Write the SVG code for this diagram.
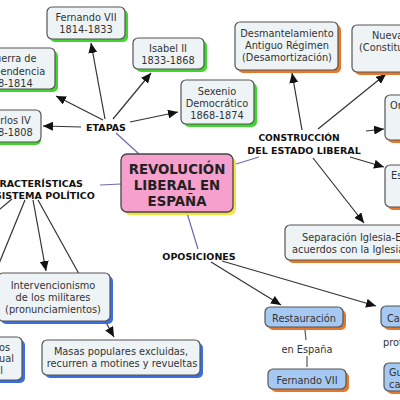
<svg xmlns="http://www.w3.org/2000/svg" width="400" height="400" viewBox="0 0 400 400">
<style>
.bg{fill:#ffffff}
.box{fill:#eef3f6;stroke:#555;stroke-width:1.2}
.bbox{fill:#a6c9f3;stroke:#555;stroke-width:1.2}
.pink{fill:#f5a0cd;stroke:#444;stroke-width:1.3}
.sg{fill:#3fd62f}
.so{fill:#e6782c}
.sb{fill:#3b6fe0}
.sy{fill:#f2e43c}
text{font-family:"DejaVu Sans","Verdana",sans-serif;font-size:9.8px;fill:#333}
.c{text-anchor:middle}
.e{text-anchor:end}
.lbl{font-weight:bold;font-size:9.5px;fill:#111;text-anchor:middle}
.big{font-weight:bold;font-size:13.3px;fill:#222;text-anchor:middle}
.a{stroke:#333;stroke-width:1.2;fill:none;marker-end:url(#ah)}
.p{stroke:#333;stroke-width:1.2;fill:none}
.l{stroke:#6b6baa;stroke-width:1.2;fill:none}
.t{stroke:#555;stroke-width:1.2;fill:none}
</style>
<defs>
<marker id="ah" markerUnits="userSpaceOnUse" markerWidth="11" markerHeight="9" refX="10" refY="4.5" orient="auto">
<path d="M0,0 L10,4.5 L0,9 z" fill="#111"/>
</marker>
</defs>
<rect class="bg" x="0" y="0" width="400" height="400"/>

<g id="connectors">
<line class="l" x1="116" y1="133" x2="139" y2="154"/>
<line class="l" x1="236" y1="164" x2="259" y2="157"/>
<line class="l" x1="100" y1="185" x2="121" y2="184"/>
<line class="l" x1="187" y1="213" x2="198" y2="249"/>
<line class="a" x1="81" y1="127" x2="43" y2="126"/>
<line class="a" x1="103" y1="120" x2="56" y2="96"/>
<line class="a" x1="105" y1="119" x2="91" y2="43"/>
<line class="a" x1="113" y1="119" x2="151" y2="73"/>
<line class="a" x1="130" y1="122" x2="178" y2="112"/>
<line class="a" x1="302" y1="130" x2="292" y2="73"/>
<line class="a" x1="318" y1="129" x2="386" y2="74"/>
<line class="a" x1="366" y1="131" x2="384" y2="129"/>
<line class="a" x1="350" y1="157" x2="384" y2="167"/>
<line class="a" x1="313" y1="158" x2="364" y2="223"/>
<line class="p" x1="12" y1="199" x2="-6" y2="214"/>
<line class="p" x1="25" y1="200" x2="-2" y2="266"/>
<line class="a" x1="33" y1="200" x2="46" y2="271"/>
<line class="a" x1="38" y1="200" x2="114" y2="337"/>
<line class="a" x1="211" y1="262" x2="281" y2="305"/>
<line class="a" x1="222" y1="261" x2="376" y2="306"/>
<line class="t" x1="305" y1="330" x2="306" y2="340"/>
<line class="t" x1="307" y1="356" x2="307" y2="367"/>
</g>

<g id="fernando7">
<rect class="sg" x="50" y="10" width="78" height="32" rx="5"/>
<rect class="box" x="47" y="7" width="78" height="32" rx="5"/>
<text class="c" x="86" y="21">Fernando VII</text>
<text class="c" x="86" y="33">1814-1833</text>
</g>
<g id="guerra">
<rect class="sg" x="-32" y="51" width="90" height="41" rx="5"/>
<rect class="box" x="-35" y="48" width="90" height="41" rx="5"/>
<text class="c" x="12" y="62">Guerra de</text>
<text class="c" x="9" y="74.5">Independencia</text>
<text class="c" x="6" y="87">1808-1814</text>
</g>
<g id="carlos4">
<rect class="sg" x="-27" y="113" width="68" height="32" rx="5"/>
<rect class="box" x="-30" y="110" width="71" height="32" rx="5"/>
<text class="c" x="9" y="123.5">Carlos IV</text>
<text class="c" x="6" y="135.5">1788-1808</text>
</g>
<g id="isabel2">
<rect class="sg" x="136" y="41" width="71" height="31" rx="5"/>
<rect class="box" x="133" y="38" width="71" height="31" rx="5"/>
<text class="c" x="168" y="52">Isabel II</text>
<text class="c" x="168" y="64">1833-1868</text>
</g>
<g id="sexenio">
<rect class="sg" x="184" y="83" width="73" height="44" rx="5"/>
<rect class="box" x="181" y="80" width="73" height="44" rx="5"/>
<text class="c" x="217" y="95">Sexenio</text>
<text class="c" x="217" y="107">Democrático</text>
<text class="c" x="217" y="119">1868-1874</text>
</g>
<g id="etapas"><text class="lbl" x="106" y="131">ETAPAS</text></g>

<g id="central">
<rect class="sy" x="124" y="157" width="112" height="58" rx="6"/>
<rect class="pink" x="121" y="154" width="112" height="58" rx="6"/>
<text class="big" x="177" y="174">REVOLUCIÓN</text>
<text class="big" x="177" y="190">LIBERAL EN</text>
<text class="big" x="177" y="206">ESPAÑA</text>
</g>

<g id="construccion">
<text class="lbl" x="299" y="141" style="font-size:9.1px">CONSTRUCCIÓN</text>
<text class="lbl" x="304" y="154">DEL ESTADO LIBERAL</text>
</g>
<g id="desmantelamiento">
<rect class="so" x="238" y="25" width="103" height="48" rx="5"/>
<rect class="box" x="235" y="22" width="103" height="48" rx="5"/>
<text class="c" x="287" y="37">Desmantelamiento</text>
<text class="c" x="287" y="49">Antiguo Régimen</text>
<text class="c" x="287" y="61">(Desamortización)</text>
</g>
<g id="nueva">
<rect class="so" x="355" y="28" width="103" height="47" rx="5"/>
<rect class="box" x="352" y="25" width="103" height="47" rx="5"/>
<text x="372" y="39">Nuevas leyes</text>
<text x="359" y="51">(Constituciones)</text>
</g>
<g id="nodoO">
<rect class="so" x="388" y="98" width="60" height="45" rx="5"/>
<rect class="box" x="385" y="95" width="60" height="45" rx="5"/>
<text x="390" y="109">Organización</text>
</g>
<g id="nodoE">
<rect class="so" x="388" y="168" width="60" height="42" rx="5"/>
<rect class="box" x="385" y="165" width="60" height="42" rx="5"/>
<text x="391" y="179">Estado</text>
</g>
<g id="separacion">
<rect class="so" x="288" y="228" width="150" height="35" rx="5"/>
<rect class="box" x="285" y="225" width="150" height="35" rx="5"/>
<text x="302" y="241">Separación Iglesia-Estado</text>
<text x="292" y="253">acuerdos con la Iglesia</text>
</g>

<g id="caracteristicas">
<text class="lbl" x="34" y="186.5">CARACTERÍSTICAS</text>
<text class="lbl" x="33" y="198.5">DEL SISTEMA POLÍTICO</text>
</g>
<g id="nodoIzq">
<rect class="sb" x="-57" y="235" width="57" height="33" rx="5"/>
<rect class="box" x="-60" y="232" width="59" height="33" rx="5"/>
</g>
<g id="intervencionismo">
<rect class="sb" x="1" y="276" width="112" height="48" rx="5"/>
<rect class="box" x="-2" y="273" width="112" height="48" rx="5"/>
<text class="c" x="53" y="289">Intervencionismo</text>
<text class="c" x="53" y="301">de los militares</text>
<text class="c" x="53" y="313">(pronunciamientos)</text>
</g>
<g id="masas">
<rect class="sb" x="45" y="343" width="158" height="35" rx="5"/>
<rect class="box" x="42" y="340" width="158" height="35" rx="5"/>
<text class="c" x="121" y="355">Masas populares excluidas,</text>
<text class="c" x="122" y="367">recurren a motines y revueltas</text>
</g>
<g id="nodoIzqAbajo">
<rect class="sb" x="-57" y="340" width="82" height="43" rx="5"/>
<rect class="box" x="-60" y="337" width="82" height="43" rx="5"/>
<text class="e" x="10" y="350.5">Derechos</text>
<text class="e" x="14" y="362">individual</text>
<text class="e" x="3" y="373.5">nacional</text>
</g>

<g id="oposiciones"><text class="lbl" x="199" y="259.5">OPOSICIONES</text></g>
<g id="restauracion">
<rect class="so" x="268" y="310" width="78" height="20" rx="5"/>
<rect class="bbox" x="265" y="307" width="78" height="20" rx="5"/>
<text class="c" x="304" y="321.5">Restauración</text>
</g>
<g id="enEspana"><text class="c" x="307" y="352.5">en España</text></g>
<g id="fernando7b">
<rect class="so" x="271" y="372" width="78" height="20" rx="5"/>
<rect class="bbox" x="268" y="369" width="78" height="20" rx="5"/>
<text class="c" x="307" y="383.5">Fernando VII</text>
</g>
<g id="carlismo">
<rect class="so" x="384" y="309" width="70" height="21" rx="5"/>
<rect class="bbox" x="381" y="306" width="70" height="21" rx="5"/>
<text x="387" y="321.5">Carlismo</text>
</g>
<g id="protagonizo"><text x="383" y="346">protagonizó</text></g>
<g id="guerras">
<rect class="so" x="387" y="366" width="66" height="28" rx="5"/>
<rect class="bbox" x="384" y="363" width="66" height="28" rx="5"/>
<text x="389" y="375.5">Guerras</text>
<text x="389" y="387.5">carlistas</text>
</g>
</svg>
